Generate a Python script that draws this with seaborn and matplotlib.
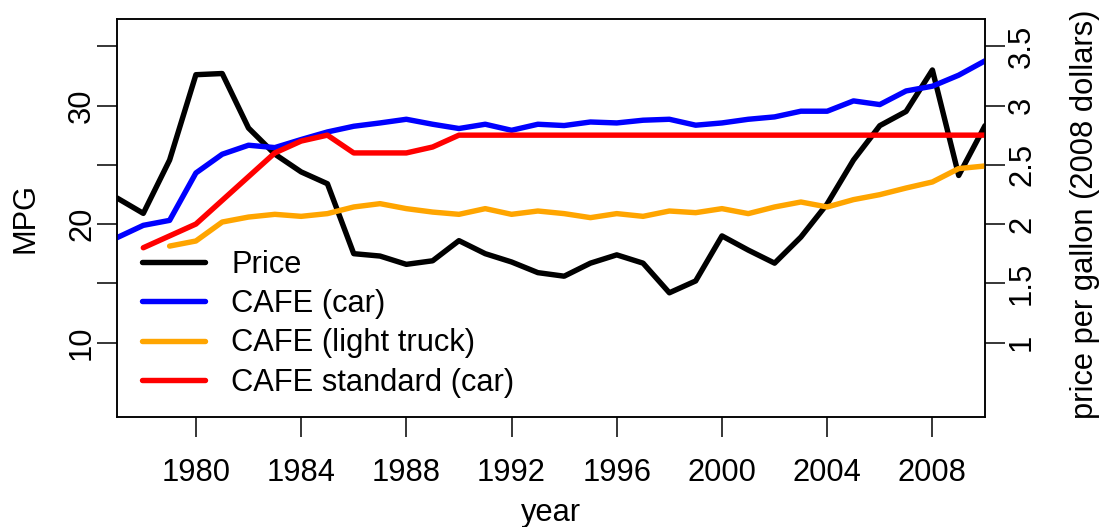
import numpy as np
import pandas as pd
import seaborn as sns
import matplotlib
matplotlib.use('Agg')
import matplotlib.pyplot as plt
from matplotlib.lines import Line2D

# data
years = list(range(1977, 2011))
price = [2.22, 2.09, 2.54, 3.26, 3.27, 2.81, 2.59, 2.44, 2.34, 1.75,
         1.73, 1.66, 1.69, 1.86, 1.75, 1.68, 1.59, 1.56, 1.67, 1.74,
         1.67, 1.42, 1.52, 1.90, 1.78, 1.67, 1.89, 2.17, 2.54, 2.83,
         2.95, 3.30, 2.41, 2.83]
cafe_car = [18.85, 19.89, 20.31, 24.31, 25.89, 26.65, 26.45, 27.13, 27.77, 28.25,
            28.53, 28.84, 28.42, 28.06, 28.42, 27.91, 28.42, 28.31, 28.61, 28.53,
            28.76, 28.84, 28.34, 28.53, 28.84, 29.04, 29.52, 29.52, 30.39, 30.08,
            31.23, 31.63, 32.56, 33.77]

years_std = list(range(1978, 2011))
cafe_std = [18.0, 19.0, 20.0, 22.0, 24.0, 26.0, 27.0, 27.5, 26.0, 26.0,
            26.0, 26.5, 27.5] + [27.5] * 20

years_truck = list(range(1979, 2011))
cafe_truck = [18.14, 18.57, 20.17, 20.59, 20.82, 20.65, 20.88, 21.44, 21.72, 21.30,
              21.01, 20.82, 21.30, 20.82, 21.10, 20.88, 20.54, 20.88, 20.65, 21.10,
              20.96, 21.30, 20.88, 21.44, 21.86, 21.44, 22.06, 22.48, 23.04, 23.55,
              24.68, 24.90]

labels = ['Price', 'CAFE (car)', 'CAFE (light truck)', 'CAFE standard (car)']
colors = ['black', '#0000FF', '#FFA500', '#FF0000']

df_main = pd.DataFrame({'year': years, 'price': price, 'car': cafe_car})
df_std = pd.DataFrame({'year': years_std, 'std': cafe_std})
df_truck = pd.DataFrame({'year': years_truck, 'truck': cafe_truck})

sns.set_style('ticks')
plt.rcParams['font.family'] = ['Liberation Sans', 'DejaVu Sans']
plt.rcParams['text.color'] = 'black'
plt.rcParams['axes.labelcolor'] = 'black'
fs = 22.2
lw = 3.9

W, H = 1102, 527
fig = plt.figure(figsize=(W / 100, H / 100), dpi=100)
ax = fig.add_axes([117 / W, 1 - 417 / H, 868 / W, 398 / H])
ax2 = ax.twinx()

# price goes underneath the MPG lines
sns.lineplot(data=df_main, x='year', y='price', ax=ax2, color=colors[0], lw=lw)
sns.lineplot(data=df_main, x='year', y='car', ax=ax, color=colors[1], lw=lw)
sns.lineplot(data=df_truck, x='year', y='truck', ax=ax, color=colors[2], lw=lw)
sns.lineplot(data=df_std, x='year', y='std', ax=ax, color=colors[3], lw=lw)
ax.set_zorder(ax2.get_zorder() + 1)
ax.patch.set_visible(False)

ymin, ymax = 3.72, 37.3
ax.set_xlim(1977, 2010)
ax.set_ylim(ymin, ymax)
ax2.set_ylim(ymin / 10, ymax / 10)

ax.set_xticks(range(1980, 2010, 4))
ax.set_yticks([10, 15, 20, 25, 30, 35])
ax.set_yticklabels(['10', '', '20', '', '30', ''])
ax2.set_yticks([1, 1.5, 2, 2.5, 3, 3.5])
ax2.set_yticklabels(['1', '1.5', '2', '2.5', '3', '3.5'])

ax.set_xlabel('')
ax.set_ylabel('')
ax2.set_ylabel('')
tick_len = 14.4
ax.tick_params(axis='x', direction='out', length=tick_len, width=1.1, pad=15,
               labelsize=fs, colors='black')
ax.tick_params(axis='y', direction='out', length=tick_len, width=1.1, pad=0,
               labelsize=fs, colors='black')
ax2.tick_params(axis='y', direction='out', length=tick_len, width=1.1, pad=1.5,
                labelsize=fs, colors='black')
for t in ax.get_yticklabels() + ax2.get_yticklabels():
    t.set_rotation(90)
    t.set_va('center')

for a in (ax, ax2):
    for s in a.spines.values():
        s.set_visible(True)
        s.set_color('black')
        s.set_linewidth(1.1)

fig.text(551 / W, 1 - 521 / H, 'year', ha='center', va='baseline', fontsize=fs)
fig.text(33.3 / W, 1 - 218 / H, 'MPG', ha='center', va='baseline', fontsize=fs,
         rotation=90, rotation_mode='anchor')
fig.text(1093 / W, 1 - 214 / H, 'price per gallon (2008 dollars)', ha='center',
         va='baseline', fontsize=fs, rotation=90, rotation_mode='anchor')

handles = [Line2D([], [], color=c, lw=lw) for c in colors]
ax.legend(handles, labels, loc='upper left', bbox_to_anchor=(142 / W, 1 - 250 / H),
          bbox_transform=fig.transFigure, frameon=False, fontsize=fs,
          borderpad=0, borderaxespad=0, handlelength=2.05, handletextpad=0.85,
          labelspacing=0.3)

fig.savefig('out.png', dpi=100)
